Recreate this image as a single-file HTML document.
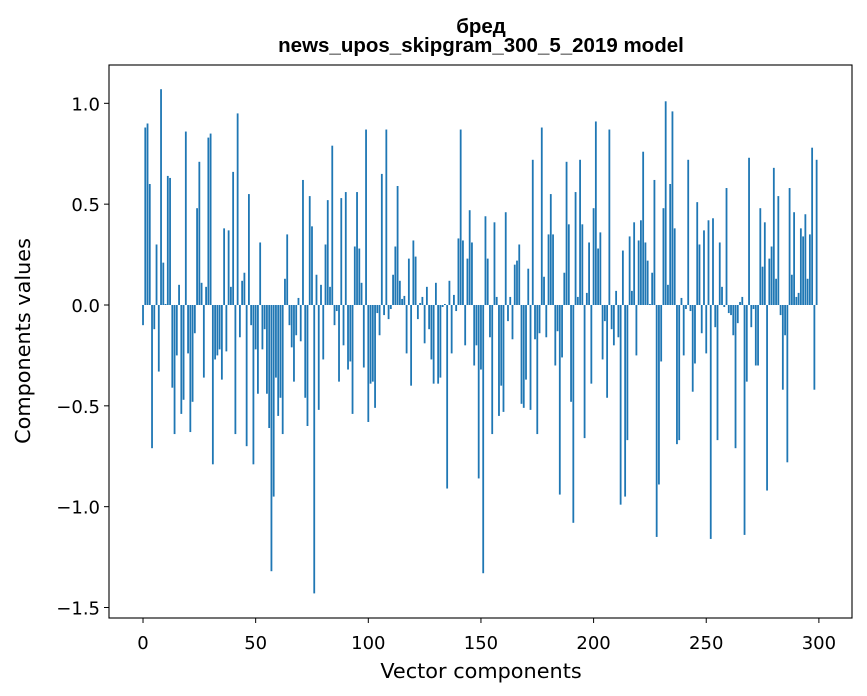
<!DOCTYPE html>
<html><head><meta charset="utf-8"><style>
body{margin:0;background:#fff}
svg{display:block;font-family:"DejaVu Sans","Liberation Sans",sans-serif}
</style></head><body>
<svg id="chart" width="867" height="696">
<text x="481" y="33" text-anchor="middle" font-size="20.5" font-weight="bold" font-family="Liberation Sans, sans-serif">бред</text>
<text x="481" y="52" text-anchor="middle" font-size="20.5" font-weight="bold" font-family="Liberation Sans, sans-serif">news_upos_skipgram_300_5_2019 model</text>
<g id="bars"></g>
<g id="axes"></g>
<text x="481" y="678" text-anchor="middle" font-size="20.8">Vector components</text>
<text transform="translate(30,341) rotate(-90)" text-anchor="middle" font-size="20.8">Components values</text>
</svg>
<script>
const values = [
-0.10,0.88,0.90,0.60,-0.71,-0.12,0.30,-0.33,1.07,0.21,
0.005,0.64,0.63,-0.41,-0.64,-0.25,0.10,-0.54,-0.47,0.86,
-0.24,-0.63,-0.48,-0.14,0.48,0.71,0.11,-0.36,0.09,0.83,
0.85,-0.79,-0.27,-0.25,-0.22,-0.37,0.38,-0.23,0.37,0.09,
0.66,-0.64,0.95,-0.16,0.12,0.16,-0.70,0.55,-0.10,-0.79,
-0.22,-0.44,0.31,-0.22,-0.12,-0.44,-0.61,-1.32,-0.95,-0.36,
-0.55,-0.46,-0.64,0.13,0.35,-0.10,-0.21,-0.38,-0.15,0.035,
-0.18,0.62,-0.46,-0.60,0.54,0.39,-1.43,0.15,-0.52,0.10,
-0.27,0.30,0.52,0.09,0.79,-0.10,-0.03,-0.38,0.53,-0.20,
0.56,-0.32,-0.28,-0.54,0.29,0.56,0.28,0.11,-0.31,0.87,
-0.58,-0.39,-0.38,-0.51,-0.04,-0.15,0.65,-0.05,0.87,-0.07,
-0.02,0.15,0.29,0.59,0.12,0.03,0.045,-0.24,0.23,-0.40,
0.32,0.24,-0.07,0.01,0.04,-0.19,0.09,-0.12,-0.27,-0.39,
0.11,-0.39,-0.36,-0.01,0.005,-0.91,0.12,-0.24,0.05,-0.03,
0.33,0.87,0.32,-0.20,0.23,0.47,0.31,-0.30,-0.20,-0.86,
-0.32,-1.33,0.44,0.23,-0.16,-0.64,0.41,0.04,-0.55,-0.40,
-0.53,0.46,-0.08,0.04,-0.17,0.20,0.22,0.30,-0.49,-0.51,
-0.37,0.18,-0.52,0.72,-0.17,-0.64,-0.14,0.88,0.14,-0.16,
0.35,0.55,0.35,-0.30,-0.13,-0.94,-0.26,0.16,0.71,0.40,
-0.48,-1.08,0.56,0.04,0.72,0.40,-0.66,0.06,0.31,-0.39,
0.48,0.91,0.28,0.36,-0.27,-0.08,-0.46,0.87,-0.12,-0.20,
0.07,-0.16,-0.99,0.27,-0.95,-0.67,0.34,0.07,0.41,-0.25,
0.32,0.42,0.76,0.31,0.22,0.005,0.16,0.62,-1.15,-0.89,
-0.28,0.48,1.01,0.10,0.60,0.96,0.38,-0.69,-0.67,0.035,
-0.25,-0.02,0.72,-0.03,-0.43,-0.29,0.51,0.30,-0.14,0.37,
-0.24,0.42,-1.16,0.43,-0.11,-0.67,0.31,0.09,-0.01,0.58,
-0.04,-0.05,-0.15,-0.71,-0.09,0.015,0.04,-1.14,-0.38,0.73,
-0.11,-0.02,-0.30,-0.30,0.48,0.19,0.41,-0.92,0.23,0.29,
0.68,0.13,0.54,-0.05,-0.42,-0.15,-0.78,0.58,0.15,0.46,
0.04,0.06,0.38,0.34,0.45,0.13,0.35,0.78,-0.42,0.72
];
const xTicks = [0,50,100,150,200,250,300];
const yTicks = [1.0,0.5,0.0,-0.5,-1.0,-1.5];
const yTickLabels = ["1.0","0.5","0.0","\u22120.5","\u22121.0","\u22121.5"];

const L=109,R=852,T=65,B=618;
const xMin=-15.1,xMax=314.7,yMin=-1.552,yMax=1.19;
const xs=v=>L+(v-xMin)/(xMax-xMin)*(R-L);
const ys=v=>T+(yMax-v)/(yMax-yMin)*(B-T);
const NS="http://www.w3.org/2000/svg";
const bars=document.getElementById('bars');
values.forEach((v,i)=>{
  const r=document.createElementNS(NS,'rect');
  const w=xs(0.8)-xs(0);
  r.setAttribute('x',xs(i-0.4));
  r.setAttribute('width',w);
  r.setAttribute('y',Math.min(ys(v),ys(0)));
  r.setAttribute('height',Math.abs(ys(v)-ys(0)));
  r.setAttribute('fill','#1f77b4');
  
  
  bars.appendChild(r);
});
const ax=document.getElementById('axes');
const frame=document.createElementNS(NS,'rect');
frame.setAttribute('x',L);frame.setAttribute('y',T);
frame.setAttribute('width',R-L);frame.setAttribute('height',B-T);
frame.setAttribute('fill','none');frame.setAttribute('stroke','#000');frame.setAttribute('stroke-width','1.1');


ax.appendChild(frame);
xTicks.forEach(t=>{
  const x=xs(t);
  const l=document.createElementNS(NS,'line');
  l.setAttribute('x1',x);l.setAttribute('x2',x);l.setAttribute('y1',B);l.setAttribute('y2',B+5);
  l.setAttribute('stroke','#000');
  
  
  ax.appendChild(l);
  const tx=document.createElementNS(NS,'text');
  tx.setAttribute('x',x);tx.setAttribute('y',B+31);tx.setAttribute('text-anchor','middle');tx.setAttribute('font-size','18');
  tx.textContent=t;
  
  
  ax.appendChild(tx);
});
yTicks.forEach((t,i)=>{
  const y=ys(t);
  const l=document.createElementNS(NS,'line');
  l.setAttribute('x1',L-5);l.setAttribute('x2',L);l.setAttribute('y1',y);l.setAttribute('y2',y);
  l.setAttribute('stroke','#000');
  
  
  ax.appendChild(l);
  const tx=document.createElementNS(NS,'text');
  tx.setAttribute('x',L-9);tx.setAttribute('y',y+7);tx.setAttribute('text-anchor','end');tx.setAttribute('font-size','18');
  tx.textContent=yTickLabels[i];
  
  
  ax.appendChild(tx);
});
</script>
</body></html>
